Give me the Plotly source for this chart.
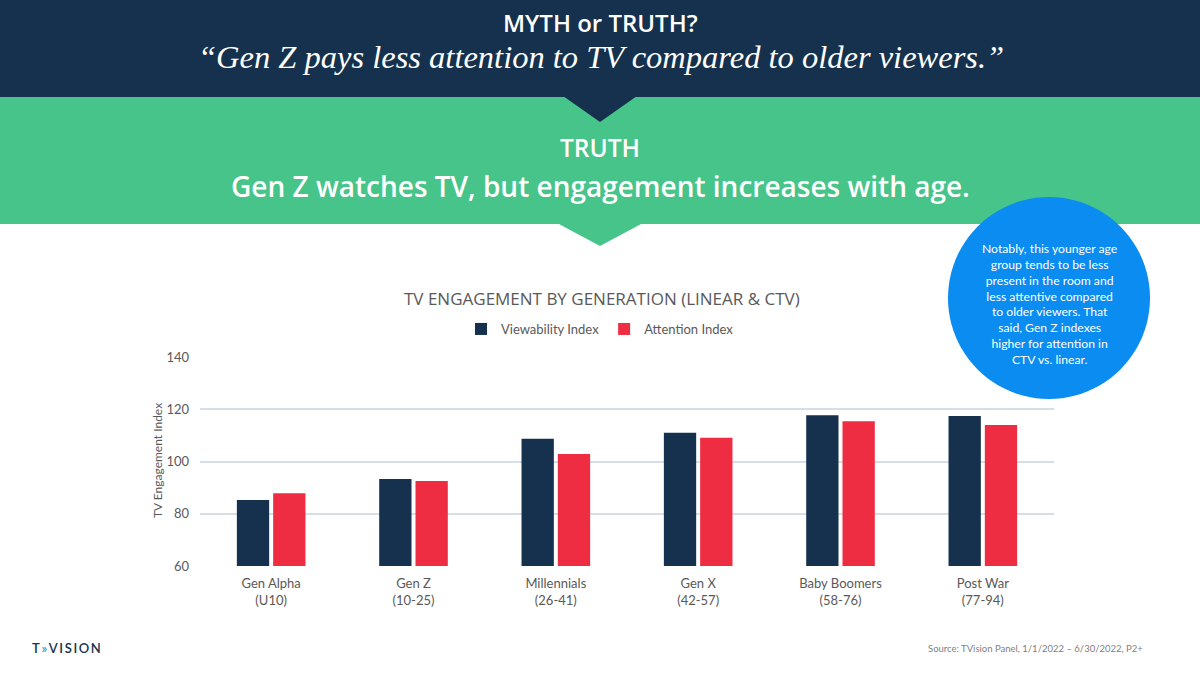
import math
import plotly.graph_objects as go

categories = ["Gen Alpha<br>(U10)", "Gen Z<br>(10-25)", "Millennials<br>(26-41)",
              "Gen X<br>(42-57)", "Baby Boomers<br>(58-76)", "Post War<br>(77-94)"]
viewability = [85.3, 93.3, 108.7, 111.0, 117.7, 117.4]
attention = [87.8, 92.5, 102.9, 109.1, 115.4, 114.0]
y_ticks = [60, 80, 100, 120, 140]

NAVY = "#15314D"
RED = "#EE2D42"
GREEN = "#47C48A"
BLUE = "#0A8CF0"
GRAY = "#595959"
W, H = 1200, 674

def px(x):
    return x / W

def py(y):
    return 1 - y / H

fig = go.Figure()
fig.add_trace(go.Bar(x=categories, y=viewability, name="Viewability Index",
                     marker=dict(color=NAVY, line=dict(width=0))))
fig.add_trace(go.Bar(x=categories, y=attention, name="Attention Index",
                     marker=dict(color=RED, line=dict(width=0))))

# circular callout drawn as a path polygon (decoration)
cx, cy, r = 1049, 298, 101
pts = []
for k in range(96):
    a = 2 * math.pi * k / 96
    pts.append(f"{px(cx + r * math.cos(a)):.5f},{py(cy + r * math.sin(a)):.5f}")
circle_path = "M " + " L ".join(pts) + " Z"

shapes = [
    dict(type="rect", xref="paper", yref="paper", x0=0, x1=1, y0=py(97), y1=1,
         fillcolor=NAVY, line=dict(width=0), layer="below"),
    dict(type="rect", xref="paper", yref="paper", x0=0, x1=1, y0=py(224), y1=py(97),
         fillcolor=GREEN, line=dict(width=0), layer="below"),
    dict(type="path", xref="paper", yref="paper",
         path=f"M {px(563)},{py(96)} L {px(637)},{py(96)} L {px(600)},{py(122)} Z",
         fillcolor=NAVY, line=dict(width=0), layer="below"),
    dict(type="path", xref="paper", yref="paper",
         path=f"M {px(557)},{py(223)} L {px(643)},{py(223)} L {px(600)},{py(246)} Z",
         fillcolor=GREEN, line=dict(width=0), layer="below"),
    dict(type="path", xref="paper", yref="paper", path=circle_path,
         fillcolor=BLUE, line=dict(width=0), layer="below"),
]

def ann(text, x, y, size, family="Open Sans", color="white", weight=None, **kw):
    f = dict(family=family, size=size, color=color)
    if weight:
        f["weight"] = weight
    d = dict(text=text, x=px(x), y=py(y), xref="paper", yref="paper", showarrow=False,
             xanchor="center", yanchor="middle", font=f)
    d.update(kw)
    return d

annotations = [
    ann("MYTH or TRUTH?", 600, 22, 24, weight=600),
    ann("<i>“Gen Z pays less attention to TV compared to older viewers.”</i>", 601, 57, 32.5,
        family="Liberation Serif"),
    ann("TRUTH", 600, 147, 24.5, weight=600),
    ann("Gen Z watches TV, but engagement increases with age.", 600, 186, 28, weight=600),
    ann("Notably, this younger age<br>group tends to be less<br>present in the room and<br>"
        "less attentive compared<br>to older viewers. That<br>said, Gen Z indexes<br>"
        "higher for attention in<br>CTV vs. linear.", 1049, 304, 12.2, family="Lato",
        align="center"),
    ann("TV ENGAGEMENT BY GENERATION (LINEAR & CTV)", 602, 298, 17, color=GRAY),
    ann("TV Engagement Index", 157, 461, 12, family="Lato", color=GRAY, textangle=-90),
    dict(text="T\u2009<span style='color:#1FA3C8'>»</span>\u2009V\u2009I\u2009S\u2009I\u2009O\u2009N",
         x=px(30), y=py(648), xref="paper", yref="paper", xanchor="left", yanchor="middle",
         showarrow=False, font=dict(family="Lato", size=13, color=NAVY, weight=600)),
    dict(text="Source: TVision Panel, 1/1/2022 – 6/30/2022, P2+", x=px(1145), y=py(648),
         xref="paper", yref="paper", xanchor="right", yanchor="middle", showarrow=False,
         font=dict(family="Lato", size=9.5, color="#7F7F7F")),
]

fig.update_layout(
    width=W, height=H, autosize=False,
    margin=dict(l=0, r=0, t=0, b=0, pad=0, autoexpand=False),
    paper_bgcolor="white", plot_bgcolor="white",
    barmode="group", bargap=0.49, bargroupgap=0.11,
    shapes=shapes, annotations=annotations,
    showlegend=True,
    legend=dict(orientation="h", x=0.5, xanchor="center", y=py(329), yanchor="middle",
                font=dict(family="Lato", size=13, color=GRAY), bgcolor="rgba(0,0,0,0)",
                itemwidth=30, traceorder="normal"),
    font=dict(family="Lato", color=GRAY),
    xaxis=dict(domain=[px(200), px(1054)], showgrid=False, showline=False, zeroline=False,
               tickfont=dict(family="Lato", size=13, color=GRAY), ticks="",
               ticklabelstandoff=8),
    yaxis=dict(domain=[py(566), py(357)], range=[60, 140], tickvals=y_ticks,
               showgrid=True, gridcolor="#D6DFE8", gridwidth=1.5, zeroline=False,
               showline=False, ticks="", ticklabelstandoff=10,
               tickfont=dict(family="Lato", size=13, color=GRAY)),
)

fig.write_html("out.html", config={"responsive": False, "displayModeBar": False},
               post_script="document.body.style.margin='0';document.body.style.padding='0';")
